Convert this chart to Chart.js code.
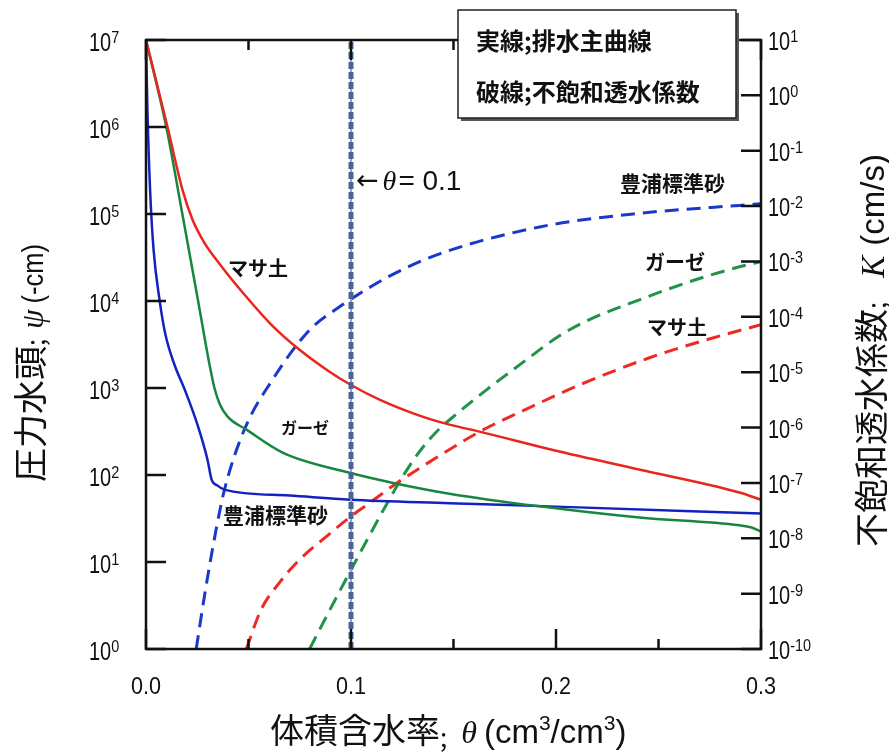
<!DOCTYPE html>
<html>
<head>
<meta charset="utf-8">
<script src="https://cdn.jsdelivr.net/npm/chart.js@4.4.1/dist/chart.umd.min.js"></script>
<style>
  html, body { margin: 0; padding: 0; background: #fff; }
  #wrap { width: 889px; height: 752px; }
</style>
</head>
<body>
<div id="wrap"><canvas id="soilChart" width="889" height="752"></canvas></div>
<script>
// 排水主曲線 (solid, left axis psi in -cm)
const thetaMasaPsi = [0, 0.0105, 0.0178, 0.0227, 0.0285, 0.0359, 0.0485, 0.0612, 0.0749, 0.0895, 0.0998, 0.1139, 0.1334, 0.148, 0.1627, 0.2, 0.241, 0.2895, 0.3];
const psiMasa = [1e7, 1.0e6, 1.89e5, 8.6e4, 4.67e4, 2.67e4, 1.15e4, 5.33e3, 2.75e3, 1.54e3, 1.09e3, 734, 481, 379, 315, 190, 115, 63, 52];

const thetaGauzePsi = [0, 0.0099, 0.0178, 0.0256, 0.0310, 0.0334, 0.0359, 0.0398, 0.049, 0.0666, 0.0993, 0.1217, 0.148, 0.192, 0.2407, 0.2895, 0.2954, 0.3];
const psiGauze = [1e7, 1.0e6, 9.8e4, 9.5e3, 1.85e3, 1.0e3, 660, 468, 332, 181, 106, 80, 61, 43.6, 32.4, 26.4, 24.9, 22.4];

const thetaToyouraPsi = [0, 0.0007, 0.002, 0.0037, 0.0066, 0.0095, 0.0139, 0.0193, 0.0251, 0.0300, 0.032, 0.0349, 0.0383, 0.07, 0.0998, 0.148, 0.2, 0.3];
const psiToyoura = [1e7, 1.57e6, 1.89e5, 3.87e4, 1.03e4, 4.09e3, 1.85e3, 906, 379, 150, 88.5, 75.5, 67.9, 58, 52.1, 47.5, 43.3, 36];

// 不飽和透水係数 (dashed, right axis K in cm/s)
const thetaToyouraK = [0.0245, 0.0285, 0.0342, 0.0383, 0.048, 0.0617, 0.0798, 0.0944, 0.0998, 0.119, 0.1432, 0.192, 0.2407, 0.2895, 0.3];
const kToyoura = [1e-10, 9.0e-10, 1.44e-8, 7.6e-8, 9.2e-7, 7.3e-6, 5.8e-5, 1.52e-4, 2.07e-4, 5.5e-4, 1.37e-3, 4.2e-3, 7.4e-3, 1.03e-2, 1.10e-2];

const thetaMasaK = [0.0489, 0.0562, 0.0651, 0.0749, 0.0879, 0.0998, 0.1100, 0.1212, 0.1432, 0.1627, 0.1871, 0.2115, 0.2456, 0.2734, 0.3];
const kMasa = [1e-10, 5.2e-10, 1.58e-9, 4.1e-9, 1.07e-8, 2.46e-8, 4.6e-8, 9.3e-8, 3.1e-7, 8.4e-7, 2.29e-6, 5.9e-6, 1.82e-5, 3.85e-5, 7.2e-5];

const thetaGauzeK = [0.0798, 0.0895, 0.0993, 0.1090, 0.1178, 0.1261, 0.1334, 0.1417, 0.1505, 0.1661, 0.1856, 0.2017, 0.2163, 0.2407, 0.2651, 0.2895, 0.3];
const kGauze = [1e-10, 4.95e-10, 2.4e-9, 1.12e-8, 4.4e-8, 1.47e-7, 3.67e-7, 8.4e-7, 1.64e-6, 4.8e-6, 1.68e-5, 4.55e-5, 8.9e-5, 2.03e-4, 4.3e-4, 8.0e-4, 9.9e-4];

// θ = 0.1 marker
const markerTheta = [0.1, 0.1];
const markerPsi = [1, 1e7];

// ticks
const leftExps = [0, 1, 2, 3, 4, 5, 6, 7];
const rightExps = [-10, -9, -8, -7, -6, -5, -4, -3, -2, -1, 0, 1];
const xMajor = [0, 0.1, 0.2, 0.3];
const xMinor = [0.05, 0.15, 0.25];
const xLabels = ['0.0', '0.1', '0.2', '0.3'];

const RED = '#e8261e', GREEN = '#17873f', BLUE = '#1420c0';
const CJK = "'Noto Sans CJK JP'";
const SANS = "'Liberation Sans', Arial, sans-serif";
const SERIF = "'Liberation Serif', 'DejaVu Serif', serif";

function pts(xs, ys) {
    return xs.map((x, i) => ({ x: x, y: ys[i] }));
}

// draws a run of text pieces side by side, each piece with its own font / offset / x-scale
function textRun(ctx, parts, x, y, align) {
    let total = 0;
    parts.forEach(p => {
        ctx.font = p.font;
        p.w = ctx.measureText(p.t).width * (p.sx || 1) + (p.gap || 0);
        total += p.w;
    });
    let cx = align === 'center' ? x - total / 2 : align === 'right' ? x - total : x;
    parts.forEach(p => {
        ctx.save();
        ctx.font = p.font;
        ctx.textAlign = 'left';
        ctx.textBaseline = 'alphabetic';
        ctx.translate(cx, y + (p.dy || 0));
        ctx.scale(p.sx || 1, 1);
        ctx.fillText(p.t, 0, 0);
        ctx.restore();
        cx += p.w;
    });
}

function powLabel(ctx, e, x, y) {
    textRun(ctx, [
        { t: '10', font: '25px ' + SANS, sx: 0.8 },
        { t: String(e), font: '17px ' + SANS, sx: 0.85, dy: -8 }
    ], x, y, 'left');
}

function cjkLabel(ctx, text, x, y, size, weight) {
    ctx.save();
    ctx.font = (weight || 'bold') + ' ' + size + 'px ' + CJK;
    ctx.textAlign = 'left';
    ctx.textBaseline = 'middle';
    ctx.fillText(text, x, y);
    ctx.restore();
}

const framePlugin = {
    id: 'frame',
    afterDatasetsDraw(chart) {
        const { ctx, chartArea: a, scales } = chart;
        const sx = scales.x, yL = scales.yL, yR = scales.yR;
        ctx.save();
        ctx.strokeStyle = '#111';
        ctx.lineWidth = 2.5;
        ctx.strokeRect(a.left, a.top, a.right - a.left, a.bottom - a.top);

        ctx.beginPath();
        leftExps.forEach(e => {
            const y = yL.getPixelForValue(Math.pow(10, e));
            ctx.moveTo(a.left, y); ctx.lineTo(a.left + 20, y);
        });
        rightExps.forEach(e => {
            const y = yR.getPixelForValue(Math.pow(10, e));
            ctx.moveTo(a.right, y); ctx.lineTo(a.right - 20, y);
        });
        xMajor.forEach(v => {
            const px = sx.getPixelForValue(v);
            ctx.moveTo(px, a.bottom); ctx.lineTo(px, a.bottom - 20);
            ctx.moveTo(px, a.top); ctx.lineTo(px, a.top + 20);
        });
        xMinor.forEach(v => {
            const px = sx.getPixelForValue(v);
            ctx.moveTo(px, a.bottom); ctx.lineTo(px, a.bottom - 10);
            ctx.moveTo(px, a.top); ctx.lineTo(px, a.top + 10);
        });
        ctx.stroke();

        // tick labels
        ctx.fillStyle = '#111';
        leftExps.forEach(e => powLabel(ctx, e, 89, yL.getPixelForValue(Math.pow(10, e)) + 11));
        rightExps.forEach(e => powLabel(ctx, e, 768, yR.getPixelForValue(Math.pow(10, e)) + 10));
        xMajor.forEach((v, i) => {
            textRun(ctx, [{ t: xLabels[i], font: '24px ' + SANS, sx: 0.9 }], sx.getPixelForValue(v), 694, 'center');
        });

        // legend box
        ctx.fillStyle = '#555';
        ctx.fillRect(461, 13, 278, 108);
        ctx.fillStyle = '#fff';
        ctx.fillRect(458, 10, 278, 108);
        ctx.lineWidth = 1.5;
        ctx.strokeStyle = '#222';
        ctx.strokeRect(458, 10, 278, 108);
        ctx.fillStyle = '#111';
        cjkLabel(ctx, '実線;排水主曲線', 476, 41, 24);
        cjkLabel(ctx, '破線;不飽和透水係数', 476, 92, 24);

        // curve labels
        cjkLabel(ctx, '豊浦標準砂', 620, 183, 21);
        cjkLabel(ctx, 'マサ土', 228, 268, 20);
        cjkLabel(ctx, 'ガーゼ', 645, 262, 20);
        cjkLabel(ctx, 'マサ土', 647, 327, 20);
        cjkLabel(ctx, 'ガーゼ', 281, 428, 16);
        cjkLabel(ctx, '豊浦標準砂', 223, 515, 21);

        // θ = 0.1 note
        textRun(ctx, [
            { t: '←', font: '27px ' + "'DejaVu Sans'", dy: -1, gap: 4 },
            { t: 'θ', font: 'italic 28px ' + SERIF, gap: 2 },
            { t: '= 0.1', font: '28px ' + SANS }
        ], 356, 190, 'left');

        // x title
        textRun(ctx, [
            { t: '体積含水率', font: '34px ' + CJK },
            { t: ';', font: '26px ' + CJK, dy: 4, gap: 14 },
            { t: 'θ', font: 'italic 32px ' + SERIF, gap: 7 },
            { t: '(cm', font: '33px ' + SANS },
            { t: '3', font: '21px ' + SANS, dy: -13 },
            { t: '/cm', font: '33px ' + SANS },
            { t: '3', font: '21px ' + SANS, dy: -13 },
            { t: ')', font: '33px ' + SANS }
        ], 270, 743, 'left');

        // left title
        ctx.save();
        ctx.translate(43, 482);
        ctx.rotate(-Math.PI / 2);
        textRun(ctx, [
            { t: '圧力水頭', font: '34px ' + CJK },
            { t: ';', font: '26px ' + CJK, dy: 2, gap: 10 },
            { t: 'ψ', font: 'italic 31px ' + SERIF, gap: 6 },
            { t: '(-cm)', font: '30px ' + SANS, sx: 0.85 }
        ], 0, 0, 'left');
        ctx.restore();

        // right title
        ctx.save();
        ctx.translate(884, 547);
        ctx.rotate(-Math.PI / 2);
        textRun(ctx, [
            { t: '不飽和透水係数', font: '34px ' + CJK },
            { t: ';', font: '26px ' + CJK, dy: 2, gap: 24 },
            { t: 'K', font: 'italic 33px ' + SERIF, gap: 10 },
            { t: '(cm/s)', font: '33px ' + SANS }
        ], 0, 0, 'left');
        ctx.restore();

        ctx.restore();
    }
};

function solid(xs, ys, color) {
    return {
        data: pts(xs, ys), yAxisID: 'yL', borderColor: color, borderWidth: 2.5,
        pointRadius: 0, cubicInterpolationMode: 'monotone', fill: false
    };
}

function dashed(xs, ys, color) {
    return {
        data: pts(xs, ys), yAxisID: 'yR', borderColor: color, borderWidth: 3,
        borderDash: [14, 8], pointRadius: 0, cubicInterpolationMode: 'monotone', fill: false
    };
}

new Chart(document.getElementById('soilChart').getContext('2d'), {
    type: 'line',
    data: {
        datasets: [
            { data: pts(markerTheta, markerPsi), yAxisID: 'yL', borderColor: '#4d6394', borderWidth: 5,
              borderDash: [7, 3], pointRadius: 0, tension: 0, fill: false },
            { data: pts(markerTheta, markerPsi), yAxisID: 'yL', borderColor: '#8aa4dc', borderWidth: 2,
              pointRadius: 0, tension: 0, fill: false },
            solid(thetaMasaPsi, psiMasa, RED),
            solid(thetaGauzePsi, psiGauze, GREEN),
            solid(thetaToyouraPsi, psiToyoura, BLUE),
            dashed(thetaToyouraK, kToyoura, '#1a38cc'),
            dashed(thetaMasaK, kMasa, '#ee2a22'),
            dashed(thetaGauzeK, kGauze, '#1f9448')
        ]
    },
    options: {
        responsive: false,
        animation: false,
        layout: { padding: { left: 146, top: 40, right: 128, bottom: 103 } },
        plugins: { legend: { display: false }, tooltip: { enabled: false } },
        scales: {
            x: { type: 'linear', min: 0, max: 0.3, display: false },
            yL: { type: 'logarithmic', position: 'left', min: 1, max: 1e7, display: false },
            yR: { type: 'logarithmic', position: 'right', min: 1e-10, max: 10, display: false }
        }
    },
    plugins: [framePlugin]
});
</script>
</body>
</html>
